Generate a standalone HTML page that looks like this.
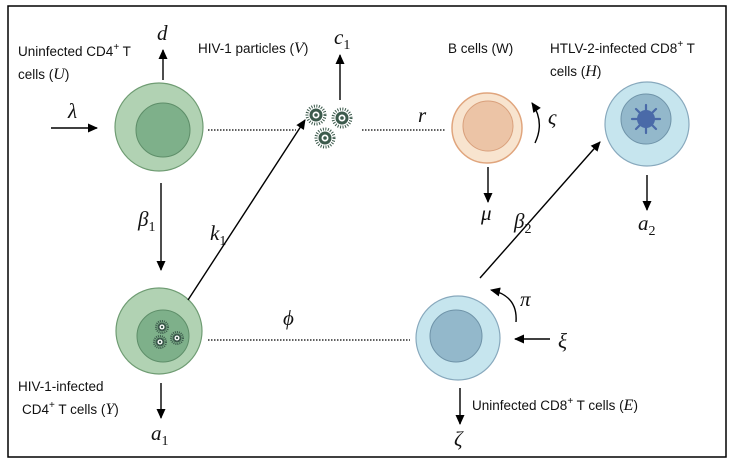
<!DOCTYPE html>
<html><head><meta charset="utf-8"><style>
html,body{margin:0;padding:0;background:#fff;}
svg{display:block;}
.s{font-family:"Liberation Sans",sans-serif;font-size:13.5px;fill:#111;}
.m{font-family:"Liberation Serif",serif;font-style:italic;font-size:21px;fill:#111;}
</style></head><body>
<svg width="733" height="465" viewBox="0 0 733 465" xmlns="http://www.w3.org/2000/svg">
<defs>
<marker id="a" markerWidth="11" markerHeight="11" refX="9" refY="5.5" orient="auto" markerUnits="userSpaceOnUse">
<path d="M0,1 L10,5.5 L0,10 Z" fill="#000"/></marker>
<g id="v">
<circle r="9" fill="none" stroke="#3c5a4c" stroke-width="3" stroke-dasharray="1 1.5"/>
<circle r="6.5" fill="#3c5a4c"/><circle r="3.5" fill="#fff"/><circle r="1.8" fill="#3c5a4c"/>
</g>
<g id="vs">
<circle r="6" fill="none" stroke="#3c5a4c" stroke-width="2" stroke-dasharray="1 1"/>
<circle r="4.5" fill="#3c5a4c"/><circle r="2.5" fill="#fff"/><circle r="1.2" fill="#3c5a4c"/>
</g>
</defs>
<rect x="8" y="6" width="718" height="451" fill="none" stroke="#000" stroke-width="1.5"/>

<circle cx="159" cy="127" r="44" fill="#b1d2b3" stroke="#6f9c73" stroke-width="1.2"/>
<circle cx="163" cy="130" r="27" fill="#7eb08a" stroke="#5e8e69" stroke-width="1"/>
<circle cx="159" cy="331" r="43" fill="#b1d2b3" stroke="#6f9c73" stroke-width="1.2"/>
<circle cx="163" cy="336" r="26" fill="#7eb08a" stroke="#5e8e69" stroke-width="1"/>
<use href="#vs" x="162" y="327"/><use href="#vs" x="177" y="338"/><use href="#vs" x="160" y="342"/>
<use href="#v" x="316" y="115"/><use href="#v" x="342" y="118"/><use href="#v" x="325" y="138"/>
<circle cx="487" cy="128" r="35" fill="#f8e4cf" stroke="#e0a57d" stroke-width="1.5"/>
<circle cx="488" cy="126" r="25" fill="#ecc4a6" stroke="#d9a07c" stroke-width="1"/>
<circle cx="647" cy="124" r="42" fill="#c6e5ee" stroke="#88a9bd" stroke-width="1.2"/>
<circle cx="646" cy="119" r="25" fill="#93b8cb" stroke="#6f93a8" stroke-width="1"/>
<g stroke="#4a6aa8" stroke-width="2.2" stroke-linecap="round">
<line x1="632" y1="119" x2="660" y2="119"/><line x1="646" y1="105" x2="646" y2="133"/>
<line x1="636" y1="109" x2="656" y2="129"/><line x1="656" y1="109" x2="636" y2="129"/>
</g>
<circle cx="646" cy="119" r="9" fill="#4a6aa8"/>
<circle cx="458" cy="338" r="42" fill="#c6e5ee" stroke="#88a9bd" stroke-width="1.2"/>
<circle cx="456" cy="336" r="26" fill="#93b8cb" stroke="#6f93a8" stroke-width="1"/>

<g stroke="#000" stroke-width="1.2" stroke-dasharray="1.5 1.5">
<line x1="208" y1="130" x2="296" y2="130"/>
<line x1="362" y1="130" x2="446" y2="130"/>
<line x1="208" y1="340" x2="410" y2="340"/>
</g>

<g stroke="#000" stroke-width="1.4" fill="none" marker-end="url(#a)">
<line x1="51" y1="128" x2="97" y2="128"/>
<line x1="163" y1="80" x2="163" y2="50"/>
<line x1="340" y1="100" x2="340" y2="55"/>
<line x1="161" y1="183" x2="161" y2="270"/>
<line x1="188" y1="300" x2="305" y2="120"/>
<line x1="488" y1="167" x2="488" y2="202"/>
<line x1="480" y1="278" x2="600" y2="142"/>
<line x1="647" y1="175" x2="647" y2="210"/>
<line x1="161" y1="383" x2="161" y2="418"/>
<line x1="460" y1="388" x2="460" y2="424"/>
<line x1="550" y1="339" x2="515" y2="339"/>
<path d="M535,143 Q545,122 532,103"/>
<path d="M516,322 Q518,296 491,290"/>
</g>

<text class="m" x="68" y="118">λ</text>
<text class="m" x="157" y="40">d</text>
<text class="m" x="334" y="44">c<tspan font-size="14" font-style="normal" dy="5">1</tspan></text>
<text class="m" x="138" y="226">β<tspan font-size="14" font-style="normal" dy="5">1</tspan></text>
<text class="m" x="210" y="240">k<tspan font-size="14" font-style="normal" dy="5">1</tspan></text>
<text class="m" x="418" y="122">r</text>
<text class="m" x="548" y="124">ς</text>
<text class="m" x="481" y="220">μ</text>
<text class="m" x="514" y="228">β<tspan font-size="14" font-style="normal" dy="5">2</tspan></text>
<text class="m" x="638" y="230">a<tspan font-size="14" font-style="normal" dy="5">2</tspan></text>
<text class="m" x="283" y="325">ϕ</text>
<text class="m" x="520" y="306">π</text>
<text class="m" x="558" y="348">ξ</text>
<text class="m" x="454" y="446">ζ</text>
<text class="m" x="151" y="440">a<tspan font-size="14" font-style="normal" dy="5">1</tspan></text>

<text class="s" x="18" y="56">Uninfected CD4<tspan font-size="10" dy="-6">+</tspan><tspan dy="6"> T</tspan></text>
<text class="s" x="18" y="79">cells (<tspan font-family="Liberation Serif" font-style="italic" font-size="16">U</tspan>)</text>
<text class="s" x="198" y="53">HIV-1 particles (<tspan font-family="Liberation Serif" font-style="italic" font-size="16">V</tspan>)</text>
<text class="s" x="448" y="53">B cells (W)</text>
<text class="s" x="550" y="53">HTLV-2-infected CD8<tspan font-size="10" dy="-6">+</tspan><tspan dy="6"> T</tspan></text>
<text class="s" x="550" y="76">cells (<tspan font-family="Liberation Serif" font-style="italic" font-size="16">H</tspan>)</text>
<text class="s" x="18" y="391">HIV-1-infected</text>
<text class="s" x="22" y="414">CD4<tspan font-size="10" dy="-6">+</tspan><tspan dy="6"> T cells (</tspan><tspan font-family="Liberation Serif" font-style="italic" font-size="16">Y</tspan>)</text>
<text class="s" x="472" y="410">Uninfected CD8<tspan font-size="10" dy="-6">+</tspan><tspan dy="6"> T cells (</tspan><tspan font-family="Liberation Serif" font-style="italic" font-size="16">E</tspan>)</text>
</svg>
</body></html>
